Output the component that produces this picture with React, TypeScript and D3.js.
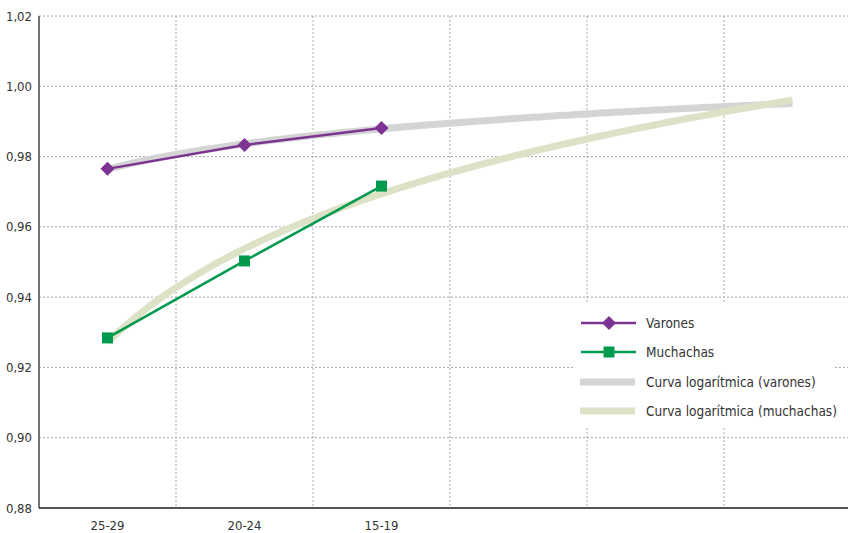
import React from "react";
import * as d3 from "d3";

const categories = ["25-29", "20-24", "15-19"];
const slotCount = 6; // three observed groups + three projected trend slots
const varones = [0.9765, 0.9833, 0.9881];
const muchachas = [0.9284, 0.9503, 0.9716];
const yTicks = [0.88, 0.9, 0.92, 0.94, 0.96, 0.98, 1.0, 1.02];
const legendLabels = [
  "Varones",
  "Muchachas",
  "Curva logarítmica (varones)",
  "Curva logarítmica (muchachas)",
];

const W = 848;
const H = 533;
const M = { left: 39, top: 16, bottom: 508 };
const band = 137;

const PURPLE = "#7d3392";
const GREEN = "#009a4e";
const GREY_TREND = "#d4d4d4";
const OLIVE_TREND = "#dce2c6";
const FONT = "'DejaVu Sans Condensed', 'Liberation Sans Narrow', 'Roboto', sans-serif";

function logFit(vals: number[]) {
  const xs = vals.map((_, i) => Math.log(i + 1));
  const mx = d3.mean(xs)!;
  const my = d3.mean(vals)!;
  let sxy = 0, sxx = 0;
  xs.forEach((x, i) => {
    sxy += (x - mx) * (vals[i] - my);
    sxx += (x - mx) * (x - mx);
  });
  const a = sxy / sxx;
  const b = my - a * mx;
  return (t: number) => a * Math.log(t) + b;
}

export default function App() {
  const y = d3.scaleLinear().domain([0.88, 1.02]).range([M.bottom, M.top]);
  const xi = d3
    .scaleLinear()
    .domain([0.5, slotCount + 0.5])
    .range([M.left, M.left + band * slotCount]);

  const line = d3
    .line<[number, number]>()
    .x((d) => xi(d[0]))
    .y((d) => y(d[1]));

  const trendPts = (vals: number[]) => {
    const f = logFit(vals);
    return d3.range(1, slotCount + 0.001, 0.05).map((t) => [t, f(t)] as [number, number]);
  };

  const gridX = d3.range(1, slotCount).map((i) => M.left + band * i);
  const right = W;

  const lg = { x: 573, y: 302, w: 262, h: 125 };
  const rows = [323, 352, 382, 411];

  const diamond = (cx: number, cy: number, r: number) =>
    `M${cx},${cy - r}L${cx + r},${cy}L${cx},${cy + r}L${cx - r},${cy}Z`;

  return (
    <svg
      width={W}
      height={H}
      style={{ position: "absolute", left: 0, top: 0, background: "#fff" }}
      fontFamily={FONT}
    >
      <defs>
        <clipPath id="plot">
          <rect x={M.left} y={0} width={W - M.left} height={M.bottom} />
        </clipPath>
      </defs>
      {yTicks.map((t) => (
        <line
          key={"h" + t}
          x1={M.left}
          x2={right}
          y1={y(t)}
          y2={y(t)}
          stroke="#a8a8a8"
          strokeWidth={1}
          strokeDasharray="2,2"
        />
      ))}
      {gridX.map((gx) => (
        <line
          key={"v" + gx}
          x1={gx}
          x2={gx}
          y1={M.top}
          y2={M.bottom}
          stroke="#a8a8a8"
          strokeWidth={1}
          strokeDasharray="2,2"
        />
      ))}
      <g clipPath="url(#plot)">
        <path d={line(trendPts(varones)) || ""} fill="none" stroke={GREY_TREND} strokeWidth={7} />
        <path d={line(trendPts(muchachas)) || ""} fill="none" stroke={OLIVE_TREND} strokeWidth={7} />
        <path
          d={line(varones.map((v, i) => [i + 1, v] as [number, number])) || ""}
          fill="none"
          stroke={PURPLE}
          strokeWidth={2.5}
        />
        <path
          d={line(muchachas.map((v, i) => [i + 1, v] as [number, number])) || ""}
          fill="none"
          stroke={GREEN}
          strokeWidth={2.5}
        />
        {varones.map((v, i) => (
          <path key={"dv" + i} d={diamond(xi(i + 1), y(v), 7)} fill={PURPLE} />
        ))}
        {muchachas.map((v, i) => (
          <rect key={"sm" + i} x={xi(i + 1) - 5.5} y={y(v) - 5.5} width={11} height={11} fill={GREEN} />
        ))}
      </g>
      <line x1={M.left} x2={M.left} y1={M.top} y2={M.bottom} stroke="#444" strokeWidth={1.5} />
      <line x1={M.left} x2={right} y1={M.bottom} y2={M.bottom} stroke="#222" strokeWidth={1.5} />
      {yTicks.map((t) => (
        <text
          key={"yl" + t}
          x={32}
          y={y(t)}
          dy="0.35em"
          textAnchor="end"
          fontSize={13}
          fill="#333"
        >
          {t.toFixed(2).replace(".", ",")}
        </text>
      ))}
      {categories.map((c, i) => (
        <text key={c} x={xi(i + 1)} y={530} textAnchor="middle" fontSize={13} fill="#333">
          {c}
        </text>
      ))}
      <rect x={lg.x} y={lg.y} width={lg.w} height={lg.h} fill="#fff" />
      <line x1={581} x2={636} y1={rows[0]} y2={rows[0]} stroke={PURPLE} strokeWidth={2.5} />
      <path d={diamond(609, rows[0], 7)} fill={PURPLE} />
      <line x1={581} x2={636} y1={rows[1]} y2={rows[1]} stroke={GREEN} strokeWidth={2.5} />
      <rect x={603.5} y={rows[1] - 5.5} width={11} height={11} fill={GREEN} />
      <line x1={580} x2={635} y1={rows[2]} y2={rows[2]} stroke={GREY_TREND} strokeWidth={7} />
      <line x1={580} x2={635} y1={rows[3]} y2={rows[3]} stroke={OLIVE_TREND} strokeWidth={7} />
      {legendLabels.map((l, i) => (
        <text key={l} x={646} y={rows[i]} dy="0.35em" fontSize={13.5} fill="#333">
          {l}
        </text>
      ))}
    </svg>
  );
}
